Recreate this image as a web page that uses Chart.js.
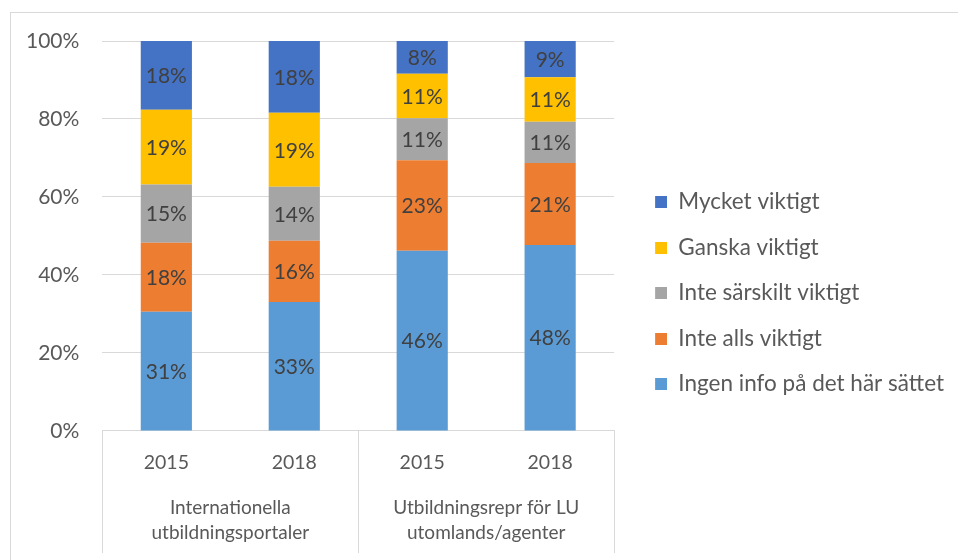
<!DOCTYPE html>
<html>
<head>
<meta charset="utf-8">
<script src="https://cdn.jsdelivr.net/npm/chart.js@4"></script>
<style>
  html, body { margin: 0; padding: 0; background: #fff; }
  #wrap { position: relative; width: 958px; height: 560px; }
  #frame {
    position: absolute; left: 10px; top: 12px; right: 0; bottom: 0;
    border-left: 1px solid #d9d9d9; border-top: 1px solid #d9d9d9;
    pointer-events: none;
  }
</style>
</head>
<body>
<div id="wrap">
  <canvas id="chart" width="958" height="560"></canvas>
  <div id="frame"></div>
</div>
<script>
// år för varje stapel och grupperna under dem
const years = ["2015", "2018", "2015", "2018"];
const groups = [["Internationella", "utbildningsportaler"], ["Utbildningsrepr för LU", "utomlands/agenter"]];
const yTicks = [0, 20, 40, 60, 80, 100];

// andelar i procent
const ingenInfo = [30.6, 33.1, 46.2, 47.7];
const inteAlls = [17.7, 15.7, 23.2, 21.0];
const inteSarskilt = [14.9, 13.8, 10.8, 10.6];
const ganska = [19.2, 19.0, 11.4, 11.4];
const mycket = [17.6, 18.4, 8.4, 9.3];

const FONT = "Lato";
const gridCol = "#d9d9d9";
const textCol = "#595959";

// skriver procenten mitt i varje segment
const barLabels = {
    id: "barLabels",
    afterDatasetsDraw(chart) {
        const ctx = chart.ctx;
        ctx.save();
        ctx.font = "21px " + FONT;
        ctx.fillStyle = "#404040";
        ctx.textAlign = "center";
        ctx.textBaseline = "middle";
        chart.data.datasets.forEach((ds, i) => {
            chart.getDatasetMeta(i).data.forEach((bar, j) => {
                const c = bar.getCenterPoint();
                ctx.fillText(Math.round(ds.data[j]) + "%", c.x, c.y + 1);
            });
        });
        ctx.restore();
    },
};

// streck mellan grupperna under x-axeln
const groupLines = {
    id: "groupLines",
    afterDraw(chart) {
        const x2 = chart.scales.x2;
        const ctx = chart.ctx;
        const xs = [x2.left];
        for (let i = 1; i < x2.ticks.length; i++) {
            xs.push((x2.getPixelForTick(i - 1) + x2.getPixelForTick(i)) / 2);
        }
        xs.push(x2.right);
        ctx.save();
        ctx.strokeStyle = gridCol;
        ctx.lineWidth = 1;
        xs.forEach((x) => {
            const px = Math.round(x) + 0.5;
            ctx.beginPath();
            ctx.moveTo(px, chart.chartArea.bottom);
            ctx.lineTo(px, x2.bottom + 8);
            ctx.stroke();
        });
        ctx.restore();
    },
};

// liten fyrkant till höger i en bredare ruta, så texten hamnar rätt
const legendMark = (color) => {
    const c = document.createElement("canvas");
    c.width = 30;
    c.height = 12;
    const g = c.getContext("2d");
    g.fillStyle = color;
    g.fillRect(18, 0, 12, 12);
    return c;
};

const main = () => {
    const data = {
        labels: years,
        datasets: [
            { label: "Ingen info på det här sättet", data: ingenInfo, backgroundColor: "#5B9BD5" },
            { label: "Inte alls viktigt", data: inteAlls, backgroundColor: "#ED7D31" },
            { label: "Inte särskilt viktigt", data: inteSarskilt, backgroundColor: "#A5A5A5" },
            { label: "Ganska viktigt", data: ganska, backgroundColor: "#FFC000" },
            { label: "Mycket viktigt", data: mycket, backgroundColor: "#4472C4" },
        ],
    };
    data.datasets.forEach((ds) => {
        ds.barPercentage = 0.4;
        ds.categoryPercentage = 1;
        ds.borderWidth = 0;
    });
    const marks = data.datasets.map((ds) => legendMark(ds.backgroundColor));

    const config = {
        type: "bar",
        data: data,
        plugins: [barLabels, groupLines],
        options: {
            responsive: false,
            animation: false,
            layout: { padding: { left: 3, top: 41, right: 4, bottom: 15 } },
            plugins: {
                tooltip: { enabled: false },
                legend: {
                    position: "right",
                    reverse: true,
                    maxWidth: 420,
                    labels: {
                        usePointStyle: true,
                        pointStyleWidth: 30,
                        boxHeight: 12,
                        padding: 23,
                        color: textCol,
                        font: { family: FONT, size: 22.5 },
                        generateLabels: (chart) => {
                            const items = Chart.defaults.plugins.legend.labels.generateLabels(chart);
                            items.forEach((it) => {
                                it.pointStyle = marks[it.datasetIndex];
                            });
                            return items;
                        },
                    },
                },
            },
            scales: {
                x: {
                    stacked: true,
                    weight: 0,
                    grid: { display: false, drawTicks: false },
                    border: { display: true, color: gridCol },
                    ticks: {
                        autoSkip: false,
                        maxRotation: 0,
                        padding: 20.3,
                        color: textCol,
                        font: { family: FONT, size: 19.5 },
                    },
                },
                x2: {
                    type: "category",
                    position: "bottom",
                    weight: 1,
                    labels: groups,
                    offset: true,
                    grid: { display: false, drawTicks: false },
                    border: { display: false },
                    ticks: {
                        autoSkip: false,
                        maxRotation: 0,
                        padding: 0,
                        color: textCol,
                        font: { family: FONT, size: 19, lineHeight: 1.316 },
                    },
                },
                y: {
                    stacked: true,
                    min: 0,
                    max: 100,
                    afterBuildTicks: (scale) => {
                        scale.ticks = yTicks.map((v) => ({ value: v }));
                    },
                    grid: { color: gridCol, drawTicks: false },
                    border: { display: false },
                    ticks: {
                        padding: 23,
                        color: textCol,
                        font: { family: FONT, size: 21 },
                        callback: (v) => v + "%",
                    },
                },
            },
        },
    };
    new Chart(document.getElementById("chart"), config);
};

document.fonts.load("21px " + FONT).then(main, main);
</script>
</body>
</html>
